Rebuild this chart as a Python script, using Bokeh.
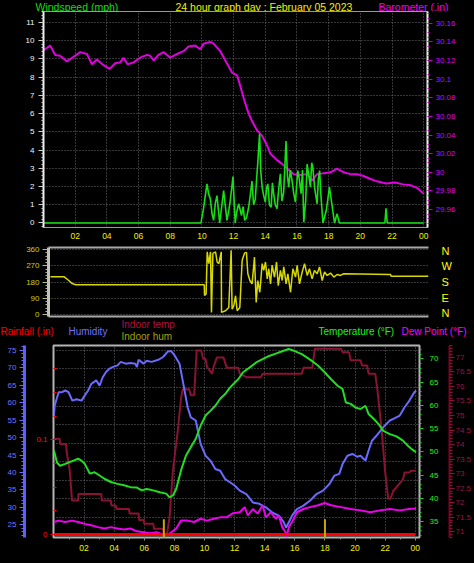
import numpy as np
from bokeh.plotting import figure
from bokeh.layouts import column
from bokeh.models import (Range1d, LinearAxis, SingleIntervalTicker, FixedTicker,
                          CustomJSTickFormatter, Label)
from bokeh.embed import file_html
from bokeh.resources import INLINE
try:
    from bokeh.models import GlobalInlineStyleSheet
except Exception:
    GlobalInlineStyleSheet = None

FONT = "Liberation Sans"
BG = "#000000"
W = 474

# ---------------- data ----------------
baro_hours = [0.0, 0.42, 0.74, 1.05, 1.48, 1.90, 2.32, 2.74, 3.06, 3.37, 3.79, 4.17, 4.53, 4.85,
              5.05, 5.31, 5.69, 6.10, 6.53, 6.74, 6.95, 7.26, 7.58, 8.00, 8.43, 8.84, 9.16, 9.58,
              9.90, 10.10, 10.53, 10.74, 11.16, 11.48, 11.90, 12.22, 12.38, 12.68, 12.93, 13.16,
              13.48, 13.80, 14.11, 14.32, 14.74, 15.06, 15.38, 15.79, 16.20, 16.64, 16.95, 17.27,
              17.69, 18.11, 18.53, 18.95, 19.37, 19.80, 20.20, 20.60, 21.10, 21.65, 22.20, 22.70,
              23.20, 23.60, 24.00]
baro_inhg = [30.131, 30.136, 30.126, 30.125, 30.119, 30.124, 30.129, 30.127, 30.116, 30.121,
             30.115, 30.111, 30.117, 30.118, 30.123, 30.116, 30.118, 30.123, 30.126, 30.125,
             30.120, 30.126, 30.129, 30.123, 30.127, 30.130, 30.135, 30.136, 30.132, 30.138,
             30.140, 30.138, 30.130, 30.120, 30.107, 30.104, 30.095, 30.077, 30.064, 30.055,
             30.045, 30.039, 30.029, 30.020, 30.013, 30.009, 30.004, 29.998, 29.997, 29.998,
             29.991, 29.998, 29.999, 30.000, 30.004, 30.000, 29.998, 29.998, 29.996, 29.993,
             29.990, 29.988, 29.989, 29.987, 29.986, 29.983, 29.977]

wind_hours = [0.0, 9.94, 10.10, 10.32, 10.42, 10.53, 10.64, 10.74, 10.85, 10.95, 11.12, 11.25,
              11.37, 11.47, 11.58, 11.68, 11.79, 11.88, 11.96, 12.10, 12.20, 12.32, 12.50, 12.60,
              12.70, 12.82, 12.95, 13.05, 13.16, 13.26, 13.37, 13.45, 13.52, 13.64, 13.72, 13.80,
              13.90, 14.00, 14.08, 14.16, 14.26, 14.37, 14.45, 14.53, 14.63, 14.74, 14.84, 14.95,
              15.05, 15.16, 15.31, 15.40, 15.48, 15.58, 15.69, 15.80, 15.90, 16.05, 16.15, 16.26,
              16.35, 16.43, 16.55, 16.64, 16.75, 16.85, 16.93, 17.00, 17.12, 17.27, 17.35, 17.43,
              17.52, 17.64, 17.85, 18.05, 18.20, 18.37, 18.53, 18.68, 21.55, 21.62, 21.70, 24.0]
wind_mph = [0, 0, 0.78, 2.14, 1.6, 1.32, 0.5, 0.14, 1.1, 1.5, 0, 0.9,
            1.78, 1.0, 0.14, 0.6, 1.23, 1.9, 2.54, 0, 0.6, 1.05, 0.41, 0.9,
            0.14, 0.3, 0.86, 1.5, 2.3, 1.0, 1.3, 2.4, 3.2, 4.87, 2.8, 1.95,
            1.5, 1.14, 1.9, 2.14, 1.0, 0.86, 2.2, 1.6, 1.0, 0.78, 1.8, 2.69,
            1.2, 1.68, 4.5, 2.6, 1.96, 2.9, 2.32, 1.6, 1.14, 2.87, 2.4, 1.6,
            2.9, 0.04, 1.2, 3.23, 2.6, 1.96, 3.3, 3.05, 1.9, 1.05, 2.4, 2.87,
            1.4, 0, 0.68, 1.96, 1.05, 0, 0.5, 0, 0, 0.8, 0, 0]

dir_hours = [0.0, 0.85, 1.16, 1.38, 1.59, 9.76, 9.78, 9.88, 9.95, 10.05, 10.16, 10.22, 10.31,
             10.48, 10.58, 10.69, 10.84, 10.86, 11.11, 11.32, 11.47, 11.53, 11.64, 11.75, 11.85,
             12.02, 12.17, 12.32, 12.44, 12.53, 12.66, 12.80, 12.95, 13.06, 13.16, 13.29, 13.44,
             13.54, 13.65, 13.76, 13.86, 13.97, 14.07, 14.22, 14.35, 14.46, 14.60, 14.71, 14.81,
             14.96, 15.07, 15.24, 15.39, 15.56, 15.66, 15.81, 15.98, 16.13, 16.30, 16.44, 16.61,
             16.76, 16.93, 17.08, 17.25, 17.40, 17.57, 17.78, 17.99, 18.20, 18.41, 18.62, 21.59,
             21.62, 24.0]
dir_deg = [210, 210, 189, 172, 166, 166, 106, 115, 347, 282, 347, 13, 338,
           347, 291, 282, 347, 13, 22, 40, 356, 31, 50, 105, 22,
           40, 301, 340, 344, 226, 189, 170, 318, 68, 189, 124, 282,
           245, 291, 198, 254, 170, 273, 208, 291, 161, 245, 189, 264,
           170, 226, 124, 254, 208, 273, 170, 236, 282, 217, 254, 198,
           245, 226, 264, 189, 236, 217, 230, 208, 222, 217, 226, 222,
           213, 213]

hum_hours = [0.0, 0.05, 0.31, 0.53, 0.75, 0.97, 1.22, 1.50, 1.83, 2.05, 2.27, 2.48, 2.81, 3.03,
             3.24, 3.46, 3.67, 3.89, 4.22, 4.44, 4.76, 5.08, 5.40, 5.51, 5.62, 5.95, 6.16, 6.49,
             6.93, 7.25, 7.57, 7.79, 8.01, 8.34, 8.55, 8.88, 9.09, 9.42, 9.74, 10.07, 10.39,
             10.72, 11.04, 11.37, 11.69, 12.02, 12.34, 12.78, 13.21, 13.64, 14.08, 14.51, 14.94,
             15.27, 15.42, 15.60, 15.81, 16.14, 16.57, 17.00, 17.44, 17.87, 18.30, 18.63, 18.95,
             19.17, 19.49, 19.82, 20.14, 20.36, 20.69, 20.90, 21.12, 21.44, 21.88, 22.31, 22.64,
             22.97, 23.29, 23.61, 23.94, 24.05]
hum_pct = [56.3, 59.2, 63.0, 63.0, 63.5, 63.0, 60.6, 61.0, 60.6, 62.1, 63.5, 65.4, 66.4, 64.9,
           67.3, 68.8, 69.7, 70.2, 70.7, 71.7, 71.2, 71.4, 71.2, 70.2, 72.3, 71.2, 72.0, 71.7,
           72.3, 73.1, 74.7, 74.8, 73.6, 71.2, 66.4, 58.7, 55.8, 54.9, 48.2, 44.8, 43.4,
           41.0, 40.5, 38.1, 37.2, 36.2, 34.8, 33.8, 31.4, 31.0, 30.0, 28.5, 27.6,
           25.7, 24.2, 25.7, 27.6, 29.5, 30.5, 31.9, 33.8, 34.8, 36.7, 39.1, 39.6,
           42.4, 44.8, 45.3, 44.5, 44.8, 43.4, 46.3, 49.1, 50.6, 53.0, 54.9, 55.6,
           56.3, 58.7, 60.6, 63.0, 63.5]

temp_hours = [0.0, 0.20, 0.40, 0.75, 0.97, 1.30, 1.60, 1.83, 2.05, 2.38, 2.70, 3.03, 3.35, 3.78,
              4.22, 4.65, 5.08, 5.51, 5.83, 6.16, 6.60, 7.03, 7.46, 7.68, 7.90, 8.12, 8.44, 8.77,
              9.09, 9.42, 9.74, 10.07, 10.39, 10.72, 11.04, 11.37, 11.69, 12.02, 12.24, 12.56,
              12.99, 13.43, 13.86, 14.29, 14.73, 15.16, 15.59, 16.03, 16.46, 16.79, 17.11, 17.55,
              17.98, 18.41, 18.84, 19.17, 19.39, 19.71, 20.04, 20.36, 20.69, 20.90, 21.23, 21.55,
              21.88, 22.31, 22.75, 23.18, 23.51, 23.83, 24.05]
temp_f = [50.3, 47.7, 47.0, 47.4, 47.7, 48.1, 48.5, 48.1, 47.4, 45.3, 45.6, 44.9, 44.2, 43.5,
          43.1, 42.8, 42.4, 42.3, 41.7, 42.0, 41.7, 41.3, 41.0, 40.2, 40.6, 42.0, 46.0, 49.2,
          51.0, 52.8, 55.6, 57.8, 58.8, 59.9, 61.4, 62.4, 63.8, 64.9, 65.6, 67.1,
          68.1, 69.2, 69.9, 70.6, 71.1, 71.6, 72.1, 71.6, 71.0, 70.3, 69.6, 68.5,
          67.1, 65.6, 64.2, 63.5, 60.6, 60.3, 59.5, 59.2, 59.9, 58.1, 57.1, 56.0,
          54.5, 53.8, 53.3, 52.4, 51.3, 50.4, 49.9]

dew_hours = [0.0, 0.31, 0.75, 1.20, 1.60, 2.05, 2.48, 2.92, 3.35, 3.78, 4.22, 4.65, 5.08, 5.51,
             5.95, 6.38, 6.82, 7.25, 7.57, 7.79, 8.12, 8.44, 8.88, 9.31, 9.74, 10.17, 10.60,
             11.04, 11.47, 11.90, 12.34, 12.67, 12.88, 13.21, 13.53, 13.86, 14.08, 14.40, 14.73,
             14.94, 15.16, 15.38, 15.45, 15.60, 15.81, 16.14, 16.57, 17.00, 17.55, 17.98, 18.41,
             19.06, 19.71, 20.36, 21.01, 21.66, 22.31, 22.97, 23.61, 24.05]
dew_f = [34.9, 35.2, 34.9, 35.2, 34.9, 34.5, 34.2, 33.8, 33.5, 33.8, 33.5, 33.3, 33.5, 32.9,
         32.7, 32.5, 32.7, 32.2, 32.2, 32.7, 33.5, 35.2, 35.2, 34.9, 35.6, 35.2, 35.6,
         35.9, 35.9, 36.8, 37.0, 38.1, 36.3, 37.7, 36.7, 38.5, 35.9, 37.0, 35.6,
         36.3, 33.8, 32.7, 31.6, 33.8, 34.9, 37.0, 37.7, 38.1, 38.5, 39.0, 38.5,
         38.1, 37.7, 37.4, 37.0, 37.4, 37.7, 37.4, 37.7, 37.8]

indoor_hours = [0.0, 0.38, 0.40, 0.80, 0.83, 1.05, 1.20, 1.60, 1.63, 3.14, 3.18, 3.78, 3.82, 4.11,
                4.15, 4.98, 5.02, 5.62, 5.66, 5.96, 6.00, 6.60, 6.64, 7.25, 7.30, 7.51, 7.68, 7.90,
                8.23, 8.44, 8.55, 8.98, 9.09, 9.31, 9.48, 9.78, 9.91, 10.07, 10.17, 10.50, 10.60,
                10.82, 11.26, 11.48, 12.24, 12.34, 12.78, 13.75, 13.86, 16.46, 16.57, 17.16, 17.33,
                19.06, 19.17, 19.60, 19.71, 20.36, 20.47, 20.80, 20.90, 21.34, 21.49, 21.77, 21.99,
                22.20, 22.35, 22.53, 22.75, 23.18, 23.29, 23.61, 23.72, 24.05]
indoor_f = [74.2, 74.2, 74.02, 74.02, 73.8, 73.1, 72.07, 72.07, 72.3, 72.3, 72.07, 72.07, 71.9, 71.9,
            71.78, 71.78, 71.63, 71.63, 71.4, 71.4, 71.27, 71.27, 71.1, 71.1, 70.92, 70.92, 71.5, 73.1,
            74.5, 75.6, 75.9, 75.9, 75.7, 75.7, 77.24, 77.24, 76.95, 76.95, 76.67, 76.44, 76.67,
            77.0, 77.0, 76.64, 76.64, 76.44, 76.32, 76.32, 76.44, 76.44, 76.64, 76.64, 77.3,
            77.3, 77.18, 77.18, 76.9, 76.9, 76.72, 76.72, 76.44, 76.44, 75.86, 74.48, 73.1,
            72.13, 72.13, 72.4, 72.53, 72.8, 73.04, 73.04, 73.1, 73.1]

rain_hours = [0.0, 24.0]
rain_in = [0.0, 0.0]

mark_hours = [7.3, 18.0]
mark_low = [-0.004, -0.004]
mark_high = [0.016, 0.016]

hour_ticks = list(range(2, 25, 2))
hour_labels_js = "return String(Math.round(tick) % 24).padStart(2, '0')"
num_js = "return String(Number(tick.toFixed(3)))"
TICK_FS = "8px"


def no_align(p):
    try:
        p.frame_align = False
    except Exception:
        pass


def base_fig(h, left, right, top, bottom, x_range, y_range):
    p = figure(width=W, height=h, x_range=x_range, y_range=y_range,
               output_backend="svg", toolbar_location=None,
               min_border_left=left, min_border_right=right,
               min_border_top=top, min_border_bottom=bottom,
               background_fill_color=BG, border_fill_color=BG)
    no_align(p)
    p.title.visible = False
    p.outline_line_color = None
    for g in (p.xgrid[0], p.ygrid[0]):
        g.grid_line_color = "#6e6e6e"
        g.grid_line_dash = "1 2"
        g.grid_line_width = 1
    return p


def text_fig(h, y_top):
    p = figure(width=W, height=h, x_range=Range1d(0, W), y_range=Range1d(y_top + h, y_top),
               output_backend="svg", toolbar_location=None,
               x_axis_location=None, y_axis_location=None, min_border=0,
               background_fill_color=BG, border_fill_color=BG)
    no_align(p)
    p.title.visible = False
    p.outline_line_color = None
    p.grid.visible = False
    return p


def style_axis(ax, color, label_color, font_size=TICK_FS, tick_out=5, minor_out=3,
               standoff=3, line_color=None, line_width=1):
    ax.axis_line_color = line_color
    ax.axis_line_width = line_width
    ax.major_tick_line_color = color
    ax.minor_tick_line_color = color
    ax.major_tick_out = tick_out
    ax.major_tick_in = 0
    ax.minor_tick_out = minor_out
    ax.minor_tick_in = 0
    ax.major_label_text_color = label_color
    ax.major_label_text_font = FONT
    ax.major_label_text_font_size = font_size
    ax.major_label_standoff = standoff


def pad_axis(ax, size_px):
    # blank axis label used only to widen the axis panel
    ax.axis_label = " "
    ax.axis_label_text_font = FONT
    ax.axis_label_text_font_size = size_px
    ax.axis_label_standoff = 0
    ax.axis_label_text_color = BG


def add_label(p, text, x, y, color, size):
    p.add_layout(Label(x=x, y=y, text=text, text_color=color, text_font=FONT,
                       text_font_size=size, text_baseline="middle", text_align="left"))


# ---------------- title strip ----------------
pT = text_fig(11, 0)
add_label(pT, "Windspeed (mph)", 35, 5, "#11dd11", "10.5px")
add_label(pT, "24 hour graph day : February 05 2023", 175, 5, "#f0f000", "10.5px")
add_label(pT, "Barometer (.in)", 378, 5, "#ee00ee", "10.5px")

# ---------------- top: wind speed + barometer ----------------
pA = base_fig(233, 43, 47, 0, 17, Range1d(0, 24.24), Range1d(-0.25, 11.6))
pA.extra_y_ranges = {"baro": Range1d(29.9407, 30.1726)}
pA.outline_line_color = "#9a9a9a"
pA.outline_line_width = 1

wy = pA.yaxis[0]
wy.ticker = SingleIntervalTicker(interval=1, num_minor_ticks=5)
pA.ygrid[0].ticker = wy.ticker
style_axis(wy, "#d0d0d0", "#f4f4f4", tick_out=5, minor_out=2, standoff=4,
           line_color="#f0f0f0", line_width=2)

baro_ax = LinearAxis(y_range_name="baro",
                     ticker=SingleIntervalTicker(interval=0.02, num_minor_ticks=4),
                     formatter=CustomJSTickFormatter(code=num_js))
style_axis(baro_ax, "#c000c0", "#dd00ee", tick_out=5, minor_out=2, standoff=3,
           line_color="#f0f0f0", line_width=2)
pA.add_layout(baro_ax, "right")

wx = pA.xaxis[0]
wx.ticker = FixedTicker(ticks=hour_ticks)
pA.xgrid[0].ticker = wx.ticker
wx.formatter = CustomJSTickFormatter(code=hour_labels_js)
style_axis(wx, None, "#f0f000", font_size="8.5px", tick_out=0, minor_out=0, standoff=5)

pA.line(baro_hours, baro_inhg, y_range_name="baro", color="#e000e0", line_width=2)
pA.line(wind_hours, wind_mph, color="#14e014", line_width=1.6)

# ---------------- middle: wind direction ----------------
pB = base_fig(74, 48, 46, 3, 2, Range1d(-0.127, 24.0), Range1d(-9.5, 371))
dy = pB.yaxis[0]
dy.ticker = FixedTicker(ticks=[0, 90, 180, 270, 360], minor_ticks=list(range(0, 361, 18)))
pB.ygrid[0].ticker = dy.ticker
style_axis(dy, "#b8b890", "#d0d000", tick_out=6, minor_out=3, standoff=3,
           line_color="#c4c4c4", line_width=3)

comp = LinearAxis(ticker=FixedTicker(ticks=[0, 90, 180, 270, 360]),
                  formatter=CustomJSTickFormatter(
                      code="return ({0:'N',90:'E',180:'S',270:'W',360:'N'})[Math.round(tick)]"))
style_axis(comp, None, "#ffff00", font_size="11px", tick_out=0, minor_out=0, standoff=13)
pB.add_layout(comp, "right")

bx = pB.xaxis[0]
bx.ticker = FixedTicker(ticks=[])
pB.xgrid[0].ticker = bx.ticker
style_axis(bx, None, BG, tick_out=0, minor_out=0, standoff=0,
           line_color="#a8a8a8", line_width=2)
top_ax = LinearAxis(ticker=FixedTicker(ticks=[]))
style_axis(top_ax, None, BG, tick_out=0, minor_out=0, standoff=0,
           line_color="#a8a8a8", line_width=2)
pB.add_layout(top_ax, "above")

pB.line(dir_hours, dir_deg, color="#d8d800", line_width=1.5)

# ---------------- legend strip ----------------
pL = text_fig(25, 318)
add_label(pL, "Rainfall (.in)", 0, 331, "#ff0000", "10px")
add_label(pL, "Humidity", 68, 331, "#7070ff", "10px")
add_label(pL, "Indoor temp", 121, 324, "#b01040", "10px")
add_label(pL, "Indoor hum", 121, 335.5, "#a0a000", "10px")
add_label(pL, "Temperature (°F)", 318, 331, "#22ee22", "10px")
add_label(pL, "Dew Point (°F)", 401, 331, "#ff00ff", "10px")

# ---------------- bottom: rain, humidity, temperatures ----------------
pC = base_fig(220, 53, 47, 2, 26, Range1d(-0.03, 24.28), Range1d(21.35, 76.4))
pC.extra_y_ranges = {"temp": Range1d(31.57, 72.85), "indoor": Range1d(70.8, 77.41),
                     "rain": Range1d(-0.0032, 0.1996)}
pC.outline_line_color = "#b4b4b4"
pC.outline_line_width = 2

hy = pC.yaxis[0]
hy.ticker = SingleIntervalTicker(interval=5, num_minor_ticks=5)
style_axis(hy, "#6a6aff", "#7474ff", tick_out=5, minor_out=3, standoff=3,
           line_color="#5c5cff", line_width=3)
pC.ygrid[0].ticker = FixedTicker(ticks=list(np.linspace(75, 27.1, 10)))

rain_ax = LinearAxis(y_range_name="rain",
                     ticker=FixedTicker(ticks=[0, 0.1], minor_ticks=list(np.arange(0, 0.2, 0.025))),
                     formatter=CustomJSTickFormatter(code=num_js))
style_axis(rain_ax, "#ff0000", "#ff1010", tick_out=3, minor_out=0, standoff=3)
rain_ax.major_tick_in = 2
rain_ax.minor_tick_in = 3
pad_axis(rain_ax, "6px")
pC.left = [rain_ax, hy]

temp_ax = LinearAxis(y_range_name="temp",
                     ticker=SingleIntervalTicker(interval=5, num_minor_ticks=5))
style_axis(temp_ax, "#22cc22", "#22ee22", tick_out=4, minor_out=2, standoff=6)
pad_axis(temp_ax, "4px")
pC.add_layout(temp_ax, "right")

in_ax = LinearAxis(y_range_name="indoor",
                   ticker=SingleIntervalTicker(interval=0.5, num_minor_ticks=5),
                   formatter=CustomJSTickFormatter(code=num_js))
style_axis(in_ax, "#8a1232", "#a01040", tick_out=5, minor_out=3, standoff=1,
           line_color="#800028", line_width=2)
pC.add_layout(in_ax, "right")

cx = pC.xaxis[0]
cx.ticker = FixedTicker(ticks=hour_ticks, minor_ticks=list(range(1, 25)))
pC.xgrid[0].ticker = FixedTicker(ticks=hour_ticks)
cx.formatter = CustomJSTickFormatter(code=hour_labels_js)
style_axis(cx, "#909090", "#f0f000", font_size="8.5px", tick_out=3, minor_out=2, standoff=4)

pC.line(indoor_hours, indoor_f, y_range_name="indoor", color="#8a1232", line_width=2)
pC.line(hum_hours, hum_pct, color="#6a6aff", line_width=2)
pC.line(temp_hours, temp_f, y_range_name="temp", color="#22dd22", line_width=2)
pC.line(dew_hours, dew_f, y_range_name="temp", color="#ee00ee", line_width=2)
pC.line(rain_hours, rain_in, y_range_name="rain", color="#ff0000", line_width=3)
pC.segment(x0=mark_hours, y0=mark_low, x1=mark_hours, y1=mark_high, y_range_name="rain",
           color="#c8a800", line_width=2)

kw = {}
if GlobalInlineStyleSheet is not None:
    kw["stylesheets"] = [GlobalInlineStyleSheet(css="html, body { background: #000000; }")]
layout = column(pT, pA, pB, pL, pC, spacing=0, **kw)

open("out.html", "w").write(file_html(layout, INLINE))
